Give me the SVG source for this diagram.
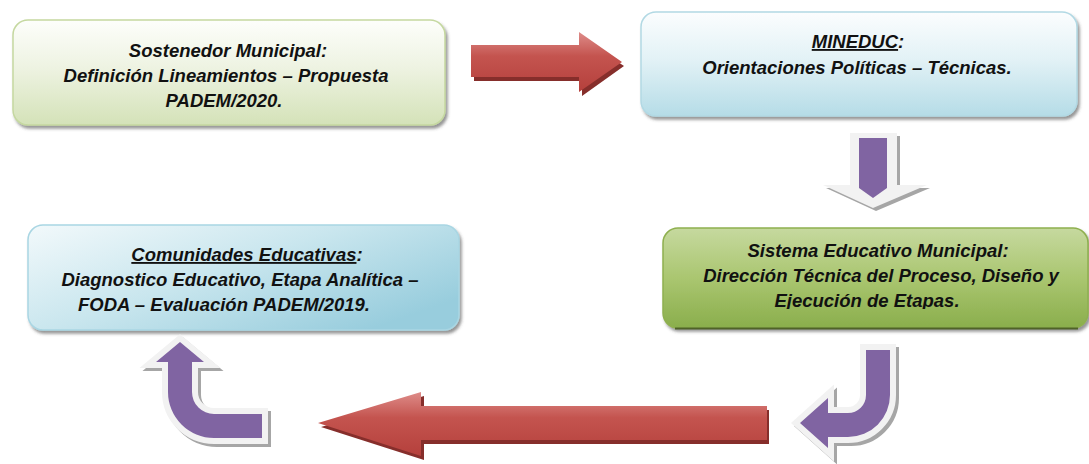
<svg xmlns="http://www.w3.org/2000/svg" width="1089" height="464" viewBox="0 0 1089 464">
<defs>
<style>
.t{font-family:"Liberation Sans",Arial,sans-serif;font-weight:bold;font-style:italic;font-size:18.5px;fill:#111;text-anchor:middle}
.u{text-decoration:underline}
.box{filter:url(#sh)}
.pur{fill:#8064a2}
.rim{fill:#f2f2f2}
.rimsh{fill:#a6a6a6}
.red{fill:url(#gRed)}
.redsh{fill:#862e2b}
</style>
<filter id="sh" x="-5%" y="-10%" width="112%" height="130%">
<feDropShadow dx="2" dy="3" stdDeviation="1.8" flood-color="#404040" flood-opacity="0.55"/>
</filter>
<linearGradient id="gG1" x1="0" y1="0" x2="0" y2="1">
<stop offset="0" stop-color="#fdfefb"/><stop offset="0.45" stop-color="#eef3e2"/><stop offset="1" stop-color="#d4e2b8"/>
</linearGradient>
<linearGradient id="gB2" x1="0" y1="0" x2="0" y2="1">
<stop offset="0" stop-color="#fbfdfe"/><stop offset="0.45" stop-color="#e3f2f6"/><stop offset="1" stop-color="#b5dce7"/>
</linearGradient>
<linearGradient id="gB4" x1="0" y1="0" x2="1" y2="0.7">
<stop offset="0" stop-color="#f2f9fb"/><stop offset="0.5" stop-color="#c9e6ee"/><stop offset="1" stop-color="#98cddd"/>
</linearGradient>
<linearGradient id="gG3" x1="0" y1="0" x2="0" y2="1">
<stop offset="0" stop-color="#c6d99f"/><stop offset="0.5" stop-color="#aac670"/><stop offset="1" stop-color="#8aae4c"/>
</linearGradient>
<linearGradient id="gRed" x1="0" y1="0" x2="0" y2="1">
<stop offset="0" stop-color="#de8c89"/><stop offset="0.4" stop-color="#c4544f"/><stop offset="1" stop-color="#b5403c"/>
</linearGradient>
<clipPath id="clip3"><rect x="663" y="228" width="426" height="81"/></clipPath>
</defs>

<g id="node-sostenedor">
<rect class="box" x="13" y="20" width="432" height="105" rx="15" fill="url(#gG1)" stroke="#c5d8a0" stroke-width="1.5"/>
<text class="t" x="228" y="57">Sostenedor Municipal:</text>
<text class="t" x="226" y="82">Definición Lineamientos – Propuesta</text>
<text class="t" x="224" y="107">PADEM/2020.</text>
</g>

<g id="node-mineduc">
<rect class="box" x="641" y="12" width="436" height="104" rx="15" fill="url(#gB2)" stroke="#b2d9e4" stroke-width="1.5"/>
<text class="t" x="858" y="48"><tspan class="u">MINEDUC</tspan>:</text>
<text class="t" x="857" y="74">Orientaciones Políticas – Técnicas.</text>
</g>

<g id="node-sistema">
<rect class="box" x="663" y="228" width="425" height="100" rx="15" fill="url(#gG3)" stroke="#8fb04f" stroke-width="1.5"/>
<line x1="675" y1="328.5" x2="1078" y2="328.5" stroke="#4f6228" stroke-width="2"/>
<text class="t" x="878" y="257">Sistema Educativo Municipal:</text>
<text class="t" x="881" y="282">Dirección Técnica del Proceso, Diseño y</text>
<text class="t" x="867" y="307" clip-path="url(#clip3)">Ejecución de Etapas.</text>
</g>

<g id="node-comunidades">
<rect class="box" x="28" y="225" width="431" height="105" rx="15" fill="url(#gB4)" stroke="#a9d6e3" stroke-width="1.5"/>
<text class="t" x="247" y="261"><tspan class="u">Comunidades Educativas</tspan>:</text>
<text class="t" x="240" y="286">Diagnostico Educativo, Etapa Analítica –</text>
<text class="t" x="224" y="311">FODA – Evaluación PADEM/2019.</text>
</g>

<g id="connectors">
<polygon class="redsh" points="474,50 582,50 582,38 624,66 582,96 582,81 474,81"/>
<polygon class="red" points="471,45 579,45 579,32 622,62 579,92 579,77 471,77"/>
<polygon class="rimsh" points="853,136 900,136 900,188 930,188 876,211 826,188 853,188"/>
<polygon class="rim" points="850,133 897,133 897,185 927,185 873,208 823,185 850,185"/>
<polygon class="pur" points="859,138 887,138 887,188 873,198 859,188"/>
<g transform="translate(3,3)">
<path class="rimsh" stroke="#a6a6a6" stroke-width="12" stroke-linejoin="miter" d="M866,350 L890,350 L890,395 A42,42 0 0 1 848,437 L828,437 L828,448 L800,423 L828,398 L828,413 L848,413 A18,18 0 0 0 866,395 Z"/>
</g>
<path class="rim" stroke="#f2f2f2" stroke-width="12" stroke-linejoin="miter" d="M866,350 L890,350 L890,395 A42,42 0 0 1 848,437 L828,437 L828,448 L800,423 L828,398 L828,413 L848,413 A18,18 0 0 0 866,395 Z"/>
<path class="pur" d="M866,350 L890,350 L890,395 A42,42 0 0 1 848,437 L828,437 L828,448 L800,423 L828,398 L828,413 L848,413 A18,18 0 0 0 866,395 Z"/>
<polygon class="redsh" points="769,410 424,410 424,396 321,427 424,460 424,444 769,444"/>
<polygon class="red" points="767,406 421,406 421,392 318,423 421,456 421,440 767,440"/>
<g transform="translate(3,3)">
<path class="rimsh" stroke="#a6a6a6" stroke-width="12" stroke-linejoin="miter" d="M180,342 L204,362 L192,362 L192,392 A22,22 0 0 0 214,414 L262,414 L262,438 L214,438 A46,46 0 0 1 168,392 L168,362 L156,362 Z"/>
</g>
<path class="rim" stroke="#f2f2f2" stroke-width="12" stroke-linejoin="miter" d="M180,342 L204,362 L192,362 L192,392 A22,22 0 0 0 214,414 L262,414 L262,438 L214,438 A46,46 0 0 1 168,392 L168,362 L156,362 Z"/>
<path class="pur" d="M180,342 L204,362 L192,362 L192,392 A22,22 0 0 0 214,414 L262,414 L262,438 L214,438 A46,46 0 0 1 168,392 L168,362 L156,362 Z"/>
</g>
</svg>
